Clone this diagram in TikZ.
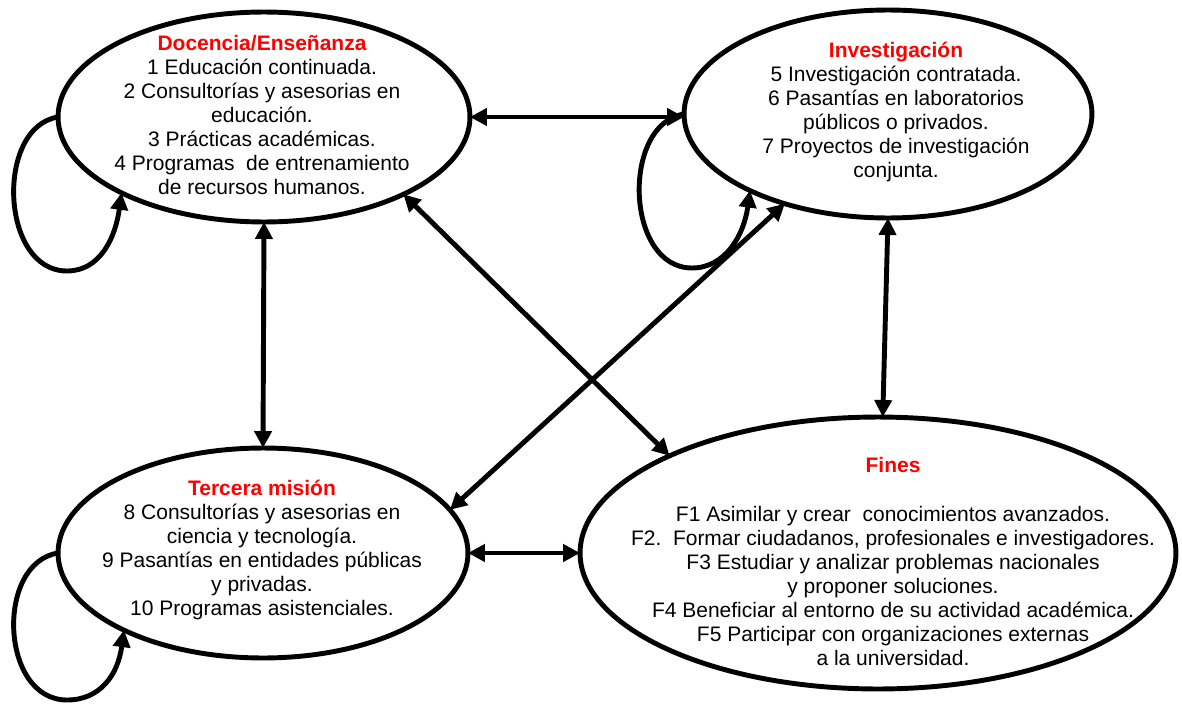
\documentclass[tikz,border=0pt]{standalone}
\usepackage{fontspec}
\setmainfont{Liberation Sans}
\usetikzlibrary{arrows.meta,shapes.geometric}
\frenchspacing
\begin{document}
\begin{tikzpicture}[x=0.02cm,y=-0.02cm,
  bubble/.style={draw,ellipse,line width=2.8pt,inner sep=0pt,outer sep=0pt},
  txt/.style={align=center,inner sep=0pt,font=\fontsize{11.95pt}{13.66pt}\selectfont},
  ttl/.style={text=red,font=\fontsize{11.95pt}{13.66pt}\selectfont\bfseries,inner sep=0pt},
  link/.style={line width=2.8pt,{Triangle[length=0.34cm,width=0.34cm]}-{Triangle[length=0.34cm,width=0.34cm]}},
  selfloop/.style={line width=2.8pt,-{Triangle[length=0.34cm,width=0.34cm]}}]
\useasboundingbox (0,0) rectangle (1182,706);

% ellipses
\node[bubble,minimum width=8.24cm,minimum height=4.2cm] (doc) at (264,117) {};
\node[bubble,minimum width=8.16cm,minimum height=4.16cm] (inv) at (888,114) {};
\node[bubble,minimum width=8.2cm,minimum height=4.2cm] (ter) at (263,553) {};
\node[bubble,minimum width=11.92cm,minimum height=5.44cm] (fin) at (878,553) {};

% texts
\node[txt] (doct) at (262,115) {{\color{red}\bfseries Docencia/Enseñanza}\\
1 Educación continuada.\\
2 Consultorías y asesorias en\\
educación.\\
3 Prácticas académicas.\\
4 Programas~ de entrenamiento\\
de recursos humanos.};
\node[txt] (invt) at (896,112) {{\color{red}\bfseries Investigación}\\
5 Investigación contratada.\\
6 Pasantías en laboratorios\\
públicos o privados.\\
7 Proyectos de investigación\\
conjunta.};
\node[txt] (tert) at (262,550) {{\color{red}\bfseries Tercera misión}\\
8 Consultorías y asesorias en\\
ciencia y tecnología.\\
9 Pasantías en entidades públicas\\
y privadas.\\
10 Programas asistenciales.};
\node[ttl] (fint) at (893,465) {Fines};
\node[txt] (finl) at (893,586) {F1 Asimilar y crear~ conocimientos avanzados.\\
F2.~ Formar ciudadanos, profesionales e investigadores.\\
F3 Estudiar y analizar problemas nacionales\\
y proponer soluciones.\\
F4 Beneficiar al entorno de su actividad académica.\\
F5 Participar con organizaciones externas\\
a la universidad.};

% connectors
\draw[link] (doc.east) -- (doc.east -| inv.west);
\draw[link] (doc.south) -- (ter.north);
\draw[link] (inv.south) -- (fin.88);
\draw[link] (ter.east) -- (ter.east -| fin.west);
\draw[link] (doc.-29) -- (fin.155);
\draw[link] (inv.221) -- (ter.13);

% self loops
\coordinate (dlb) at (67,271);
\coordinate (ilb) at (692,268);
\coordinate (tlb) at (67,700);
\draw[selfloop] (doc.180) .. controls +(-63,10) and +(-67,0) .. (dlb) .. controls +(33,0) and +(-6,45) .. (doc.208);
\draw[selfloop] (inv.180) .. controls +(-63,10) and +(-67,0) .. (ilb) .. controls +(33,0) and +(-6,45) .. (inv.209);
\draw[selfloop] (ter.180) .. controls +(-63,10) and +(-67,0) .. (tlb) .. controls +(33,0) and +(-6,45) .. (ter.209);
\end{tikzpicture}
\end{document}
